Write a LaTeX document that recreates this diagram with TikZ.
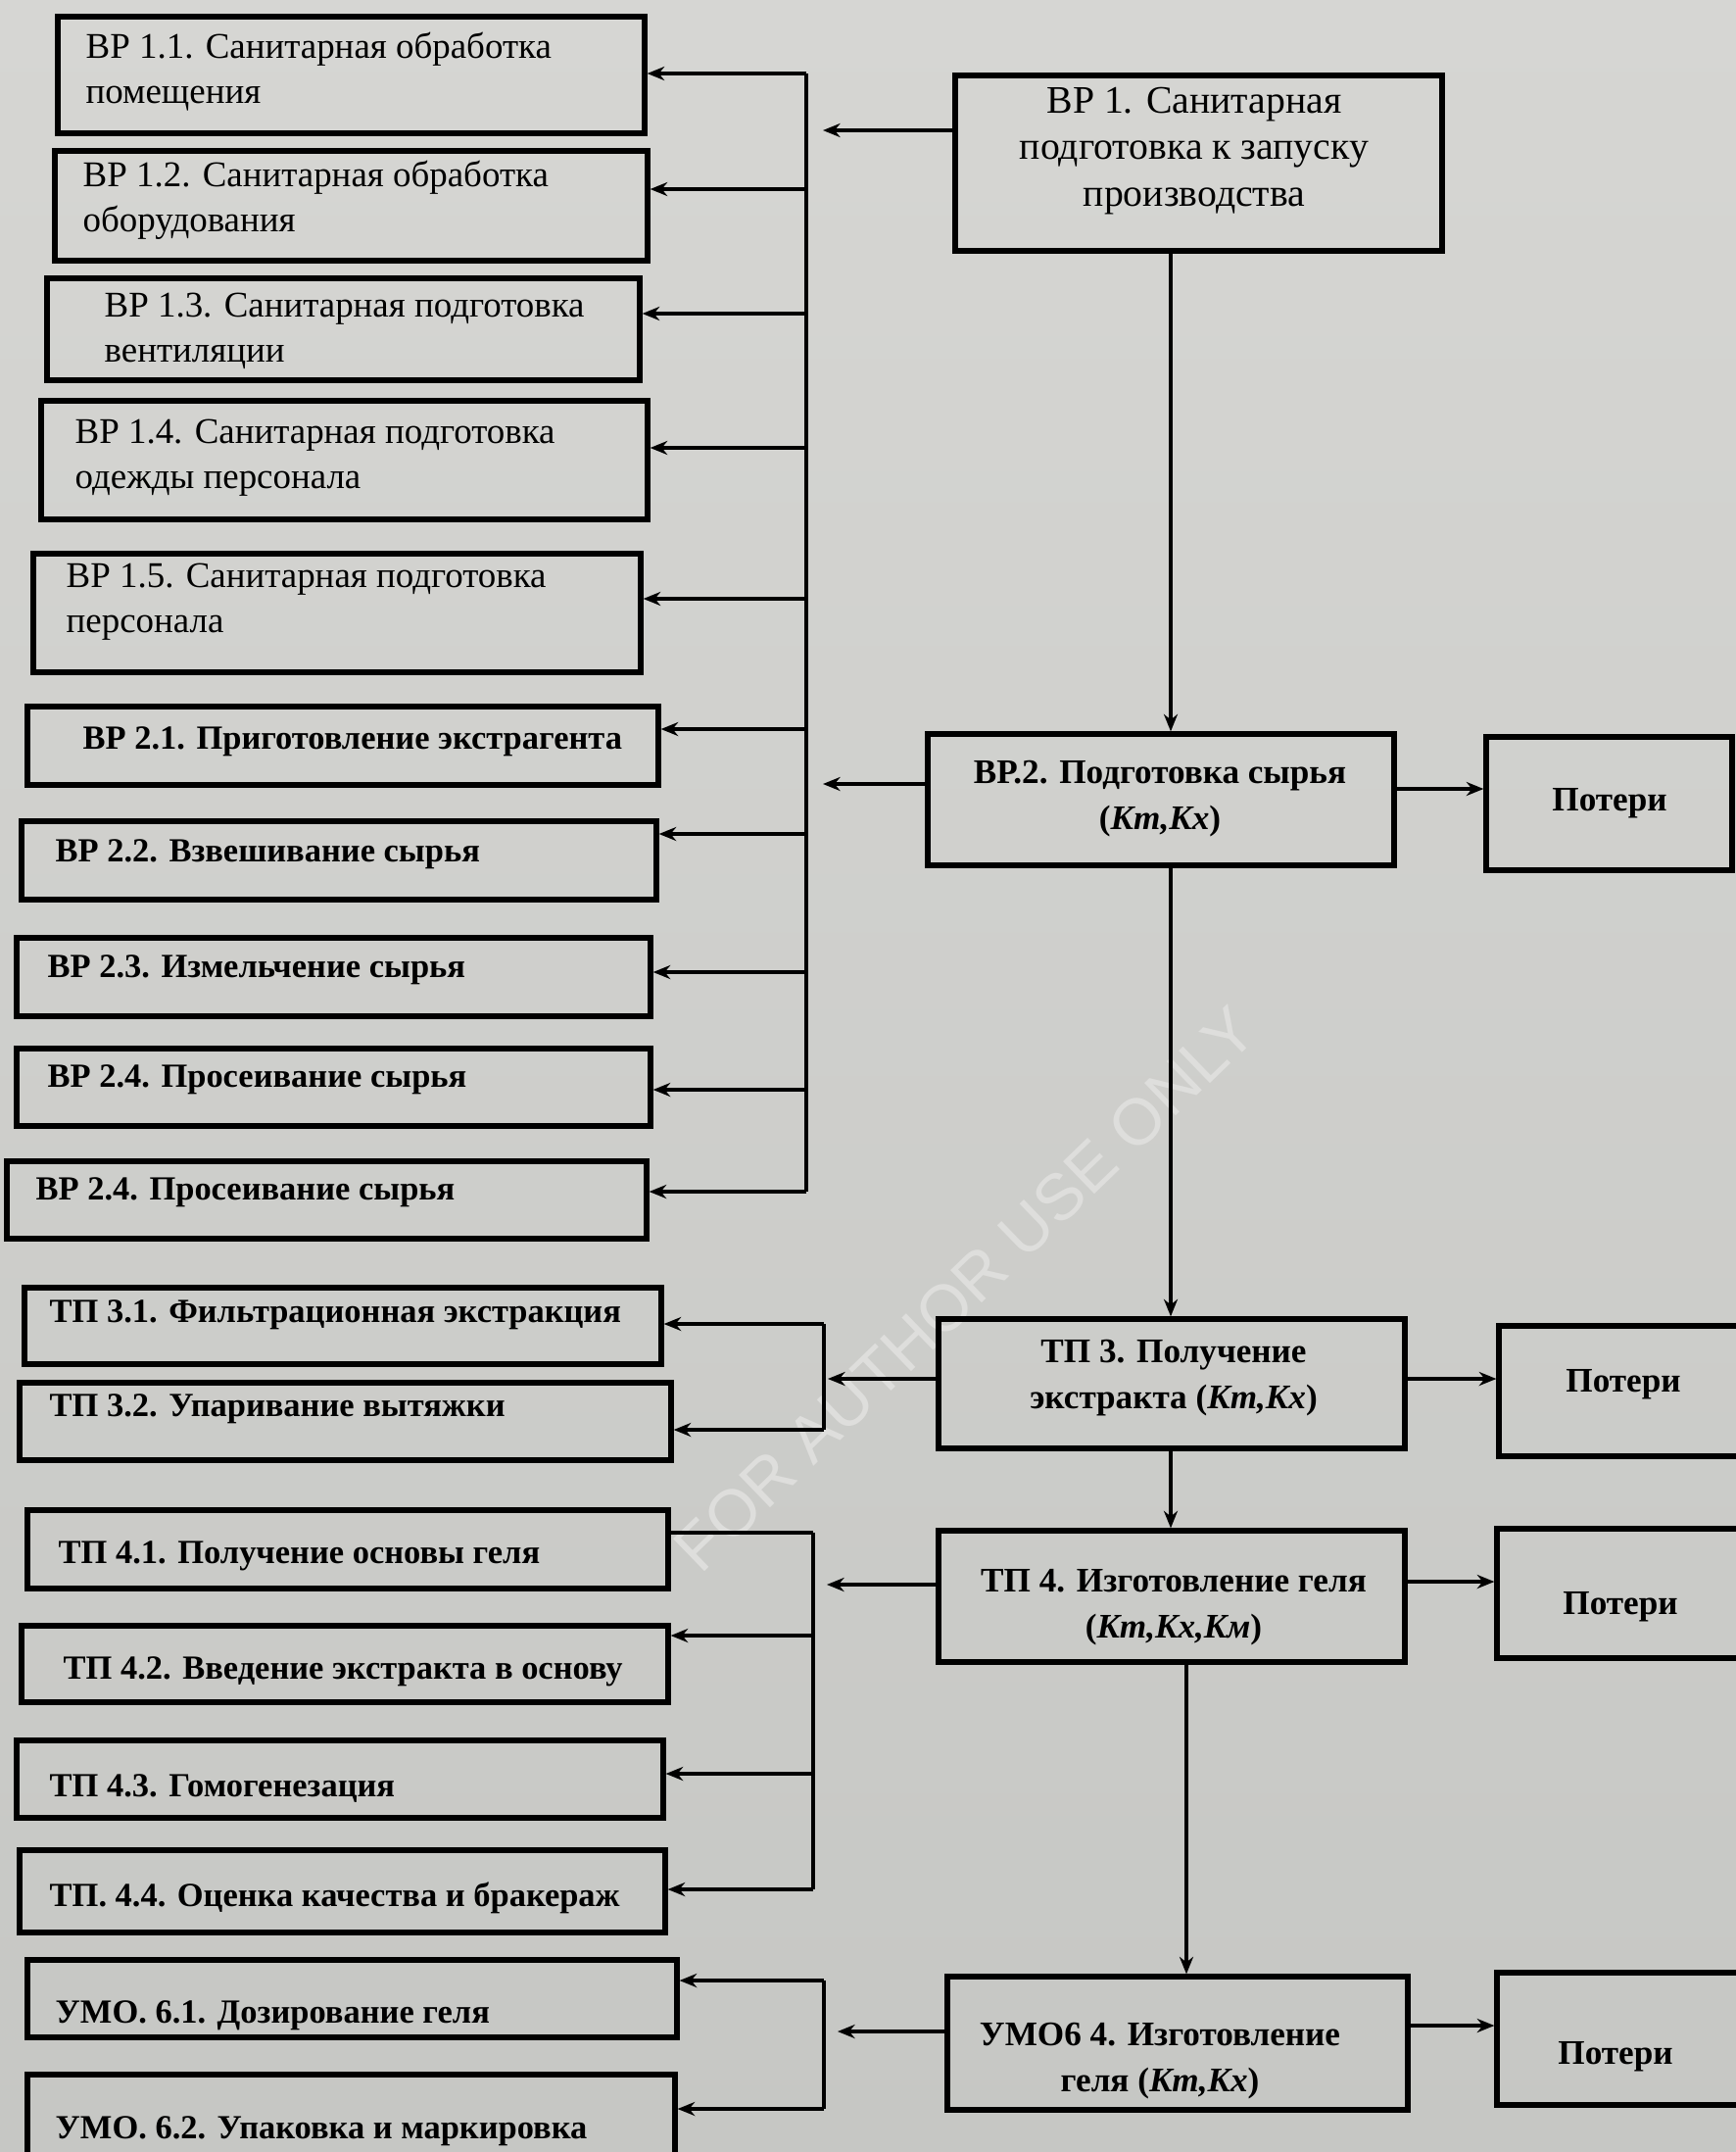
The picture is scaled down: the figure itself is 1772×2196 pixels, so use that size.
\documentclass[tikz,border=0pt]{standalone}
\usepackage{fontspec}
\setmainfont{Liberation Serif}
\setsansfont{Liberation Sans}
\usetikzlibrary{arrows.meta,fit}
\begin{document}
\begin{tikzpicture}[x=0.01cm,y=-0.01cm,
  box/.style={draw=black, line width=1.5pt, inner sep=0pt},
  lt/.style={inner sep=0pt, anchor=west, align=left, font=\fontsize{10.5}{13}\selectfont},
  ltb/.style={inner sep=0pt, anchor=west, align=left, font=\fontsize{9.8}{13}\selectfont\bfseries},
  ct/.style={inner sep=0pt, align=center, font=\fontsize{11.3}{13.5}\selectfont},
  ctb/.style={inner sep=0pt, align=center, font=\fontsize{10}{13.4}\selectfont\bfseries},
  conn/.style={line width=0.9pt},
  arr/.style={line width=0.9pt, -{Stealth[length=5pt,width=4pt]}},
]
\definecolor{bgtop}{RGB}{214,214,211}
\definecolor{bgbot}{RGB}{198,199,196}
\definecolor{wmc}{RGB}{222,222,220}
\useasboundingbox (0,0) rectangle (1772,2196);
\shade[top color=bgtop, bottom color=bgbot] (0,0) rectangle (1772,2196);
\clip (0,0) rectangle (1772,2196);

% watermark
\node[rotate=44, font=\sffamily\fontsize{19}{19}\selectfont, text=wmc] (wm) at (985,1315) {FOR AUTHOR USE ONLY};

% left boxes
\node[box, fit={(59,17) (658,136)}] (b11) {};
\node[box, fit={(56,154) (661,266)}] (b12) {};
\node[box, fit={(48,284) (653,388)}] (b13) {};
\node[box, fit={(42,409) (661,530)}] (b14) {};
\node[box, fit={(34,565) (654,686)}] (b15) {};
\node[box, fit={(28,721) (672,801)}] (b21) {};
\node[box, fit={(22,838) (670,918)}] (b22) {};
\node[box, fit={(17,957) (664,1037)}] (b23) {};
\node[box, fit={(17,1070) (664,1149)}] (b24) {};
\node[box, fit={(7,1185) (660,1264)}] (b25) {};
\node[box, fit={(25,1314) (675,1392)}] (t31) {};
\node[box, fit={(20,1411) (685,1490)}] (t32) {};
\node[box, fit={(28,1541) (682,1621)}] (t41) {};
\node[box, fit={(22,1659) (682,1737)}] (t42) {};
\node[box, fit={(17,1776) (677,1855)}] (t43) {};
\node[box, fit={(20,1888) (679,1972)}] (t44) {};
\node[box, fit={(28,2000) (691,2079)}] (u61) {};
\node[box, fit={(28,2117) (689,2215)}] (u62) {};

% left texts
\node[lt] (tb11) at (87,73) {ВР 1.1. Санитарная обработка\\помещения};
\node[lt] (tb12) at (84,204) {ВР 1.2. Санитарная обработка\\оборудования};
\node[lt] (tb13) at (106,338) {ВР 1.3. Санитарная подготовка\\вентиляции};
\node[lt] (tb14) at (76,467) {ВР 1.4. Санитарная подготовка\\одежды персонала};
\node[lt] (tb15) at (67,614) {ВР 1.5. Санитарная подготовка\\персонала};
\node[ltb] (tb21) at (84,757) {ВР 2.1. Приготовление экстрагента};
\node[ltb] (tb22) at (56,872) {ВР 2.2. Взвешивание сырья};
\node[ltb] (tb23) at (48,990) {ВР 2.3. Измельчение сырья};
\node[ltb] (tb24) at (48,1102) {ВР 2.4. Просеивание сырья};
\node[ltb] (tb25) at (36,1217) {ВР 2.4. Просеивание сырья};
\node[ltb] (tt31) at (50,1342) {ТП 3.1. Фильтрационная экстракция};
\node[ltb] (tt32) at (50,1438) {ТП 3.2. Упаривание вытяжки};
\node[ltb] (tt41) at (59,1588) {ТП 4.1. Получение основы геля};
\node[ltb] (tt42) at (64,1706) {ТП 4.2. Введение экстракта в основу};
\node[ltb] (tt43) at (50,1825) {ТП 4.3. Гомогенезация};
\node[ltb] (tt44) at (50,1937) {ТП. 4.4. Оценка качества и бракераж};
\node[ltb] (tu61) at (56,2057) {УМО. 6.1. Дозирование геля};
\node[ltb] (tu62) at (56,2175) {УМО. 6.2. Упаковка и маркировка};

% right column boxes
\node[box, fit={(975,77) (1472,256)}] (br1) {};
\node[box, fit={(947,749) (1423,883)}] (br2) {};
\node[box, fit={(1517,752) (1768,888)}] (p1) {};
\node[box, fit={(958,1346) (1434,1478)}] (tp3) {};
\node[box, fit={(1530,1353) (1790,1486)}] (p2) {};
\node[box, fit={(958,1562) (1434,1696)}] (tp4) {};
\node[box, fit={(1528,1560) (1790,1692)}] (p3) {};
\node[box, fit={(967,2017) (1437,2153)}] (umo) {};
\node[box, fit={(1528,2013) (1790,2148)}] (p4) {};

% right texts
\node[ct] (tbr1) at (1219,154) {ВР 1. Санитарная\\подготовка к запуску\\производства};
\node[ctb] (tbr2) at (1184,815) {ВР.2. Подготовка сырья\\(\textit{Km,Kx})};
\node[ctb] (ttp3) at (1198,1406) {ТП 3. Получение\\экстракта (\textit{Km,Kx})};
\node[ctb] (ttp4) at (1198,1640) {ТП 4. Изготовление геля\\(\textit{Km,Kx,Kм})};
\node[ctb] (tumo) at (1184,2103) {УМО6 4. Изготовление\\геля (\textit{Km,Kx})};
\node[ctb] (tp1) at (1643,820) {Потери};
\node[ctb] (tp2) at (1657,1413) {Потери};
\node[ctb] (tp3t) at (1654,1640) {Потери};
\node[ctb] (tp4t) at (1649,2099) {Потери};

% ---- main vertical flow
\coordinate (mx) at (1195,0);
\coordinate (mx2) at (1211,0);
\draw[arr] (br1.south -| mx) -- (br2.north -| mx);
\draw[arr] (br2.south -| mx) -- (tp3.north -| mx);
\draw[arr] (tp3.south -| mx) -- (tp4.north -| mx);
\draw[arr] (tp4.south -| mx2) -- (umo.north -| mx2);

% ---- losses
\coordinate (yl1) at (0,805);
\coordinate (yl2) at (0,1407);
\coordinate (yl3) at (0,1614);
\coordinate (yl4) at (0,2067);
\draw[arr] (br2.east |- yl1) -- (p1.west |- yl1);
\draw[arr] (tp3.east |- yl2) -- (p2.west |- yl2);
\draw[arr] (tp4.east |- yl3) -- (p3.west |- yl3);
\draw[arr] (umo.east |- yl4) -- (p4.west |- yl4);

% ---- group 1 bus
\coordinate (k11) at (823,75);
\coordinate (k12) at (823,193);
\coordinate (k13) at (823,320);
\coordinate (k14) at (823,457);
\coordinate (k15) at (823,611);
\coordinate (k21) at (823,744);
\coordinate (k22) at (823,851);
\coordinate (k23) at (823,992);
\coordinate (k24) at (823,1112);
\coordinate (k25) at (823,1216);
\coordinate (f1) at (840,133);
\coordinate (f2) at (840,800);
\draw[conn] (k11) -- (k25);
\draw[arr] (br1.west |- f1) -- (f1);
\draw[arr] (br2.west |- f2) -- (f2);
\draw[arr] (k11) -- (b11.east |- k11);
\draw[arr] (k12) -- (b12.east |- k12);
\draw[arr] (k13) -- (b13.east |- k13);
\draw[arr] (k14) -- (b14.east |- k14);
\draw[arr] (k15) -- (b15.east |- k15);
\draw[arr] (k21) -- (b21.east |- k21);
\draw[arr] (k22) -- (b22.east |- k22);
\draw[arr] (k23) -- (b23.east |- k23);
\draw[arr] (k24) -- (b24.east |- k24);
\draw[arr] (k25) -- (b25.east |- k25);

% ---- group TP3
\coordinate (m31) at (841,1351);
\coordinate (m32) at (841,1459);
\coordinate (f3) at (845,1407);
\draw[conn] (m31) -- (m32);
\draw[arr] (tp3.west |- f3) -- (f3);
\draw[arr] (m31) -- (t31.east |- m31);
\draw[arr] (m32) -- (t32.east |- m32);

% ---- group TP4
\coordinate (m41) at (830,1564);
\coordinate (m42) at (830,1669);
\coordinate (m43) at (830,1810);
\coordinate (m44) at (830,1928);
\coordinate (f4) at (844,1617);
\draw[conn] (m41) -- (m44);
\draw[arr] (tp4.west |- f4) -- (f4);
\draw[conn] (m41) -- (t41.east |- m41);
\draw[arr] (m42) -- (t42.east |- m42);
\draw[arr] (m43) -- (t43.east |- m43);
\draw[arr] (m44) -- (t44.east |- m44);

% ---- group UMO
\coordinate (m61) at (841,2021);
\coordinate (m62) at (841,2152);
\coordinate (f6) at (855,2073);
\draw[conn] (m61) -- (m62);
\draw[arr] (umo.west |- f6) -- (f6);
\draw[arr] (m61) -- (u61.east |- m61);
\draw[arr] (m62) -- (u62.east |- m62);
\end{tikzpicture}
\end{document}
